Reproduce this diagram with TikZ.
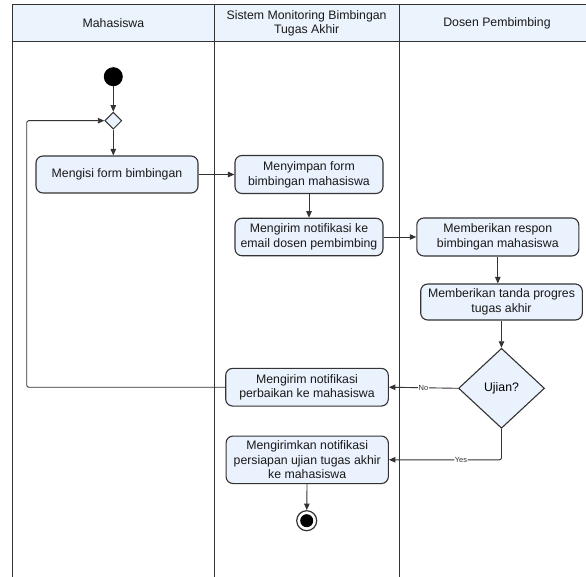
\documentclass[tikz,border=0pt]{standalone}
\usepackage{fontspec}
\setmainfont{Liberation Sans}
\usetikzlibrary{positioning,calc,shapes.geometric,arrows.meta}
\definecolor{lanefill}{RGB}{235,243,253}
\definecolor{actfill}{RGB}{234,242,253}
\definecolor{edge}{RGB}{51,51,51}
\newcommand*{\txt}{\fontsize{12.3}{14.7}\selectfont}

\tikzset{
  lane/.style={font=\txt,align=center,text=black!90},
  act/.style={draw=edge,fill=actfill,line width=1.1pt,rounded corners=7pt,
               align=center,inner sep=0pt,font=\txt,text=black!90},
  flow/.style={draw=edge,line width=0.9pt,rounded corners=2pt,
               -{Triangle[length=6.5pt,width=5.5pt]}},
  guard/.style={font=\fontsize{7.5}{8}\selectfont,fill=white,inner sep=0.6pt,text=black!80}
}

\begin{document}
\begin{tikzpicture}[x=1pt,y=-1pt]
\useasboundingbox (0,0) rectangle (586,577);
% Swimlanes
\fill[lanefill] (12.7,4.7) rectangle (586,41.7);
\draw[edge,line width=1pt] (586,4.7) -- (12.7,4.7) -- (12.7,577);
\draw[edge,line width=1pt] (12.7,41.7) -- (586,41.7);
\draw[edge,line width=1pt] (214,4.7) -- (214,577);
\draw[edge,line width=1pt] (399.3,4.7) -- (399.3,577);
\node[lane] (lane1) at (113.4,23.2) {Mahasiswa};
\node[lane] (lane2) at (306.6,23.2) {Sistem Monitoring Bimbingan\\Tugas Akhir};
\node[lane] (lane3) at (497,23.2) {Dosen Pembimbing};
% Start and merge
\node[circle,fill=black,minimum size=19pt,inner sep=0pt] (start) at (113.3,76.7) {};
\node[diamond,draw=edge,fill=actfill,line width=1pt,minimum width=17pt,
      minimum height=17pt,inner sep=0pt] (merge) at (113.3,120.7) {};
% Activities
\node[act,minimum width=162pt,minimum height=37pt] (isi) at (117,174.5) {Mengisi form bimbingan};
\node[act,minimum width=148pt,minimum height=38pt] (simpan) at (309,174.5) {Menyimpan form\\bimbingan mahasiswa};
\node[act,minimum width=148pt,minimum height=37.5pt] (kirim) at (309,237) {Mengirim notifikasi ke\\email dosen pembimbing};
\node[act,minimum width=162pt,minimum height=38pt] (respon) at (497.8,237) {Memberikan respon\\bimbingan mahasiswa};
\node[act,minimum width=161.6pt,minimum height=36pt] (tanda) at (501.5,302) {Memberikan tanda progres\\tugas akhir};
\node[diamond,draw=edge,fill=actfill,line width=1.1pt,minimum width=86pt,
      minimum height=80pt,inner sep=0pt,font=\txt] (ujian) at (501.5,388.3) {Ujian?};
\node[act,minimum width=162.6pt,minimum height=37.7pt] (perbaikan) at (307,387.2) {Mengirim notifikasi\\perbaikan ke mahasiswa};
\node[act,minimum width=162.3pt,minimum height=47.5pt] (siap) at (307.2,459.8) {Mengirimkan notifikasi\\persiapan ujian tugas akhir\\ke mahasiswa};
% End
\node[circle,draw=edge,fill=white,line width=1.2pt,minimum size=20pt,inner sep=0pt] (stop) at (306.7,520.7) {};
\fill (stop.center) circle (6.5);
% Flows
\coordinate (loopx) at (26.7,0);
\draw[flow] (start) -- (merge);
\draw[flow] (merge) -- (merge |- isi.north);
\draw[flow] (isi) -- (simpan);
\draw[flow] (simpan) -- (kirim);
\draw[flow] (kirim) -- (respon);
\draw[flow] (respon.south) -- (respon.south |- tanda.north);
\draw[flow] (tanda.south -| ujian.north) -- (ujian.north);
\draw[flow] (ujian.west) -- node[guard,pos=0.5] {No} (perbaikan.east);
\draw[flow] (perbaikan.west) -- (perbaikan.west -| loopx) |- (merge.west);
\draw[flow] (ujian.south) |- node[guard,pos=0.68] {Yes} (siap.east);
\draw[flow] (siap) -- (stop);
\end{tikzpicture}
\end{document}
